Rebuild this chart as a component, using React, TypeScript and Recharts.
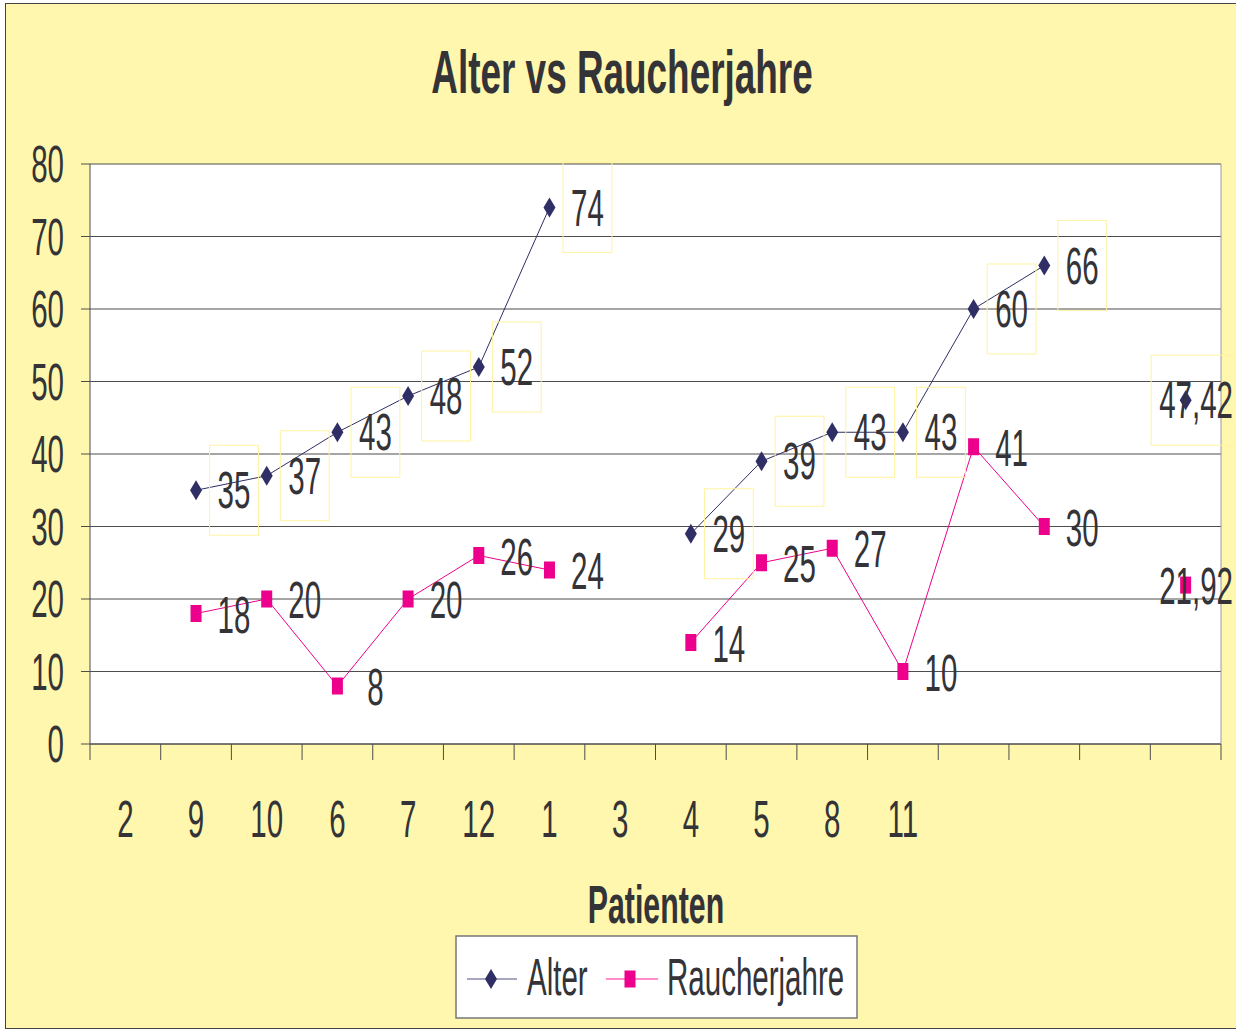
import { LineChart, Line, XAxis, YAxis, CartesianGrid, Legend, LabelList } from 'recharts'

// Patients in the order shown on the axis (last four slots have no label)
const patienten = ['2', '9', '10', '6', '7', '12', '1', '3', '4', '5', '8', '11', '', '', '', '']
const alter = [null, 35, 37, 43, 48, 52, 74, null, 29, 39, 43, 43, 60, 66, null, 47.42]
const raucherjahre = [null, 18, 20, 8, 20, 26, 24, null, 14, 25, 27, 10, 41, 30, null, 21.92]
const yTicks = [0, 10, 20, 30, 40, 50, 60, 70, 80]

const data = patienten.map((p, i) => ({ name: p, alter: alter[i], raucherjahre: raucherjahre[i] }))

const W = 1236
const H = 1033
const PLOT_LEFT = 90
const PLOT_RIGHT = 1221
const PLOT_TOP = 164
const AXIS_Y = 744
const STEP = (PLOT_RIGHT - PLOT_LEFT) / patienten.length

const FONT = '"Liberation Sans", Arial, sans-serif'
const TEXT = '#333338'
const GRID = '#4d4d4d'
const NAVY = '#2f2f66'
const PINK = '#ec008c'
const YELLOW = '#fff7ad'

// the original text is narrow and tall, so squeeze it
const SX = 0.82
const SY = 1.43

function Txt({ x, y, size = 36, anchor = 'middle', bold = false, sy = SY, children }: any) {
  return (
    <text
      transform={`translate(${x},${y}) scale(${SX},${sy})`}
      textAnchor={anchor}
      fontSize={size}
      fontWeight={bold ? 'bold' : 'normal'}
      fontFamily={FONT}
      fill={TEXT}
    >
      {children}
    </text>
  )
}

const fmt = (v: number) => String(v).replace('.', ',')

function textWidth(s: string) {
  let w = 0
  for (const c of s) w += c === ',' ? 0.278 : 0.556
  return w * 36 * SX
}

// label sits right of the point, pushed back inside the chart at the far edge
const labelCenter = (px: number, s: string) => Math.min(px + 38, 1233 - textWidth(s) / 2)

function AlterLabel(props: any) {
  const { x, y, value } = props
  if (value == null || x == null || y == null) return null
  const s = fmt(value)
  const cx = labelCenter(x, s)
  const bw = textWidth(s) + 16
  return (
    <g>
      <rect x={cx - bw / 2} y={y - 45} width={bw} height={90} fill="none" stroke="#fff3a0" strokeWidth={1} />
      <Txt x={cx} y={y + 18}>{s}</Txt>
    </g>
  )
}

function RaucherLabel(props: any) {
  const { x, y, value } = props
  if (value == null || x == null || y == null) return null
  const s = fmt(value)
  return <Txt x={labelCenter(x, s)} y={y + 19}>{s}</Txt>
}

function Diamond(props: any) {
  const { cx, cy, index, value } = props
  if (value == null || cx == null || cy == null) return <g key={index} />
  return <path key={index} d={`M${cx},${cy - 10}L${cx + 6},${cy}L${cx},${cy + 10}L${cx - 6},${cy}Z`} fill={NAVY} />
}

function Square(props: any) {
  const { cx, cy, index, value } = props
  if (value == null || cx == null || cy == null) return <g key={index} />
  return <rect key={index} x={cx - 5.5} y={cy - 8.5} width={11} height={17} fill={PINK} />
}

function XTick({ x, payload, index }: any) {
  const left = x - STEP / 2
  const right = x + STEP / 2
  return (
    <g>
      <line x1={left} x2={left} y1={AXIS_Y} y2={AXIS_Y + 16} stroke={GRID} />
      {index === patienten.length - 1 && (
        <g>
          <line x1={right} x2={right} y1={AXIS_Y} y2={AXIS_Y + 16} stroke={GRID} />
          <line x1={right} x2={right} y1={PLOT_TOP} y2={AXIS_Y} stroke="#999" />
        </g>
      )}
      <Txt x={x} y={837}>{payload.value}</Txt>
    </g>
  )
}

function YTick({ y, payload }: any) {
  return <Txt x={64} y={y + 18} anchor="end">{payload.value}</Txt>
}

function LegendBox() {
  return (
    <svg width={404} height={86}>
      <rect x={1} y={1} width={401} height={82} fill="#fff" stroke="#777" strokeWidth={1.5} />
      <line x1={12} x2={62} y1={44} y2={44} stroke="#8888aa" strokeWidth={1.5} />
      <path d="M36,34L42,44L36,54L30,44Z" fill={NAVY} />
      <Txt x={72} y={60} anchor="start">Alter</Txt>
      <line x1={151} x2={203} y1={44} y2={44} stroke="#ff66bb" strokeWidth={1.5} />
      <rect x={169.5} y={35.5} width={11} height={17} fill={PINK} />
      <Txt x={212} y={60} anchor="start">Raucherjahre</Txt>
    </svg>
  )
}

export default function App() {
  return (
    <div style={{ position: 'absolute', left: 0, top: 0, width: W, height: H, overflow: 'hidden', background: '#fff' }}>
      <div
        style={{
          position: 'absolute',
          left: 5,
          top: 3,
          width: 1240,
          height: 1026,
          background: YELLOW,
          border: '1.5px solid #444',
          boxSizing: 'border-box',
        }}
      />
      <div style={{ position: 'absolute', left: 0, top: 0 }}>
        <LineChart
          width={W}
          height={H}
          data={data}
          margin={{ top: PLOT_TOP, right: W - PLOT_RIGHT, bottom: H - AXIS_Y - 60, left: 0 }}
        >
          <CartesianGrid vertical={false} stroke={GRID} fill="#fff" fillOpacity={1} />
          <XAxis
            dataKey="name"
            height={60}
            interval={0}
            padding={{ left: STEP / 2, right: STEP / 2 }}
            axisLine={{ stroke: GRID }}
            tickLine={false}
            tick={<XTick />}
          />
          <YAxis
            width={PLOT_LEFT}
            domain={[0, 80]}
            ticks={yTicks}
            interval={0}
            tickSize={9}
            axisLine={{ stroke: GRID }}
            tickLine={{ stroke: GRID }}
            tick={<YTick />}
          />
          <Legend
            layout="horizontal"
            verticalAlign="middle"
            align="center"
            wrapperStyle={{ left: 455, top: 935, width: 404, height: 86 }}
            content={() => <LegendBox />}
          />
          <Line
            dataKey="alter"
            stroke={NAVY}
            strokeWidth={1}
            dot={Diamond}
            activeDot={false}
            isAnimationActive={false}
          >
            <LabelList dataKey="alter" content={AlterLabel} />
          </Line>
          <Line
            dataKey="raucherjahre"
            stroke={PINK}
            strokeWidth={1}
            dot={Square}
            activeDot={false}
            isAnimationActive={false}
          >
            <LabelList dataKey="raucherjahre" content={RaucherLabel} />
          </Line>
          <g>
            <Txt x={622} y={93} size={45} bold sy={1.37}>Alter vs Raucherjahre</Txt>
            <Txt x={656} y={923} size={37} bold>Patienten</Txt>
          </g>
        </LineChart>
      </div>
    </div>
  )
}
